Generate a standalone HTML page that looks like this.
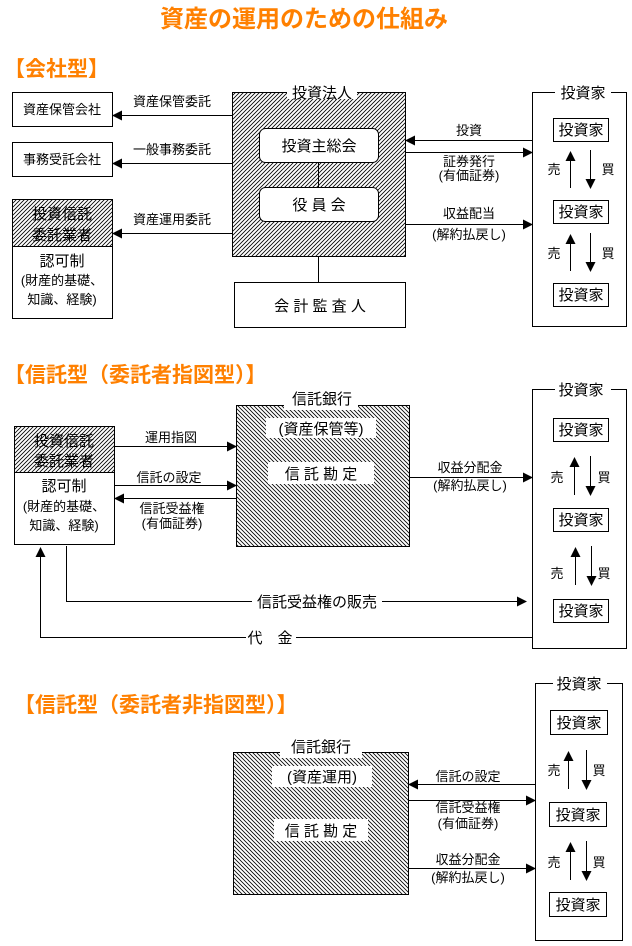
<!DOCTYPE html>
<html><head><meta charset="utf-8"><style>
html,body{margin:0;padding:0;background:#fff;}
svg{display:block;}
text{font-family:"Liberation Sans","Noto Sans CJK JP",sans-serif;font-size:13px;fill:#000;}
.o{fill:#ff8000;font-weight:bold;font-size:21px;}
.t{font-size:24px;}
.b{font-size:15px;}
</style></head><body>
<svg width="632" height="946" viewBox="0 0 632 946" xmlns="http://www.w3.org/2000/svg">
<defs>
<pattern id="h1" width="4" height="4" patternUnits="userSpaceOnUse"><rect width="4" height="4" fill="#fff"/><path d="M-1,1 L1,-1 M0,4 L4,0 M3,5 L5,3" stroke="#000" stroke-width="0.8"/></pattern>
<pattern id="h2" width="4" height="4" patternUnits="userSpaceOnUse"><rect width="4" height="4" fill="#fff"/><path d="M-1,3 L1,5 M0,0 L4,4 M3,-1 L5,1" stroke="#000" stroke-width="0.8"/></pattern>
<marker id="a" markerWidth="10" markerHeight="10" refX="9" refY="5" orient="auto" markerUnits="userSpaceOnUse"><path d="M0,0 L10,5 L0,10 z" fill="#000"/></marker>
</defs>
<text x="304" y="27" text-anchor="middle" class="o t">資産の運用のための仕組み</text>
<text x="4" y="76" class="o">【会社型】</text>

<!-- Section 1 -->
<g fill="#fff" stroke="#000">
<rect x="12.5" y="92.5" width="100" height="34"/>
<rect x="12.5" y="142.5" width="100" height="34"/>
<rect x="12.5" y="199.5" width="100" height="119"/>
<rect x="12.5" y="199.5" width="100" height="47" fill="url(#h1)"/>
<rect x="232.5" y="92.5" width="173" height="164" fill="url(#h1)"/>
<rect x="259.5" y="128.5" width="119" height="34" rx="6"/>
<rect x="259.5" y="187.5" width="119" height="34" rx="6"/>
<rect x="234.5" y="282.5" width="171" height="45"/>
<rect x="532.5" y="92.5" width="94" height="234"/>
<rect x="553.5" y="118.5" width="55" height="23"/>
<rect x="553.5" y="200.5" width="55" height="23"/>
<rect x="553.5" y="283.5" width="55" height="23"/>
</g>
<rect x="287" y="85" width="70" height="14" fill="#fff"/>
<rect x="555" y="85" width="56" height="14" fill="#fff"/>
<g stroke="#000" fill="none">
<line x1="318.5" y1="162" x2="318.5" y2="187"/>
<line x1="318.5" y1="256" x2="318.5" y2="282"/>
<line x1="232" y1="115.5" x2="113" y2="115.5" marker-end="url(#a)"/>
<line x1="232" y1="163.5" x2="113" y2="163.5" marker-end="url(#a)"/>
<line x1="232" y1="233.5" x2="113" y2="233.5" marker-end="url(#a)"/>
<line x1="532" y1="140.5" x2="406" y2="140.5" marker-end="url(#a)"/>
<line x1="406" y1="152.5" x2="532" y2="152.5" marker-end="url(#a)"/>
<line x1="406" y1="224.5" x2="532" y2="224.5" marker-end="url(#a)"/>
<line x1="570.5" y1="188" x2="570.5" y2="152" marker-end="url(#a)"/>
<line x1="590.5" y1="150" x2="590.5" y2="188" marker-end="url(#a)"/>
<line x1="570.5" y1="271" x2="570.5" y2="235" marker-end="url(#a)"/>
<line x1="590.5" y1="233" x2="590.5" y2="271" marker-end="url(#a)"/>
</g>
<text x="62" y="114" text-anchor="middle">資産保管会社</text>
<text x="62" y="164" text-anchor="middle">事務受託会社</text>
<text x="62" y="219" text-anchor="middle" class="b">投資信託</text>
<text x="62" y="240" text-anchor="middle" class="b">委託業者</text>
<text x="62" y="266" text-anchor="middle" class="b">認可制</text>
<text x="62" y="285" text-anchor="middle">(財産的基礎、</text>
<text x="62" y="304" text-anchor="middle">知識、経験)</text>
<text x="172" y="106" text-anchor="middle">資産保管委託</text>
<text x="172" y="154" text-anchor="middle">一般事務委託</text>
<text x="172" y="224" text-anchor="middle">資産運用委託</text>
<text x="322" y="98" text-anchor="middle" class="b">投資法人</text>
<text x="319" y="151" text-anchor="middle" class="b">投資主総会</text>
<text x="319" y="210" text-anchor="middle" class="b">役 員 会</text>
<text x="320" y="311" text-anchor="middle" class="b">会 計 監 査 人</text>
<text x="469" y="135" text-anchor="middle">投資</text>
<text x="469" y="166" text-anchor="middle">証券発行</text>
<text x="469" y="180" text-anchor="middle">(有価証券)</text>
<text x="469" y="218" text-anchor="middle">収益配当</text>
<text x="469" y="239" text-anchor="middle">(解約払戻し)</text>
<text x="583" y="98" text-anchor="middle" class="b">投資家</text>
<text x="581" y="135" text-anchor="middle" class="b">投資家</text>
<text x="581" y="217" text-anchor="middle" class="b">投資家</text>
<text x="581" y="300" text-anchor="middle" class="b">投資家</text>
<text x="554" y="174" text-anchor="middle">売</text><text x="608" y="174" text-anchor="middle">買</text>
<text x="554" y="258" text-anchor="middle">売</text><text x="608" y="258" text-anchor="middle">買</text>

<!-- Section 2 -->
<text x="4" y="382" class="o">【信託型（委託者指図型）】</text>
<g fill="#fff" stroke="#000">
<rect x="14.5" y="426.5" width="100" height="118"/>
<rect x="14.5" y="426.5" width="100" height="46" fill="url(#h1)"/>
<rect x="236.5" y="405.5" width="173" height="141" fill="url(#h2)"/>
<rect x="532.5" y="389.5" width="94" height="259"/>
<rect x="553.5" y="418.5" width="55" height="23"/>
<rect x="553.5" y="508.5" width="55" height="23"/>
<rect x="553.5" y="599.5" width="55" height="23"/>
</g>
<rect x="284" y="398" width="74" height="12" fill="#fff"/>
<rect x="266" y="418" width="110" height="20" fill="#fff"/>
<rect x="268" y="462" width="106" height="22" fill="#fff"/>
<rect x="555" y="382" width="56" height="14" fill="#fff"/>
<g stroke="#000" fill="none">
<line x1="114" y1="446.5" x2="236" y2="446.5" marker-end="url(#a)"/>
<line x1="114" y1="485.5" x2="236" y2="485.5" marker-end="url(#a)"/>
<line x1="236" y1="498.5" x2="115" y2="498.5" marker-end="url(#a)"/>
<line x1="410" y1="477.5" x2="532" y2="477.5" marker-end="url(#a)"/>
<polyline points="66.5,546 66.5,601.5 526,601.5" marker-end="url(#a)"/>
<polyline points="532,637.5 40.5,637.5 40.5,548" marker-end="url(#a)"/>
<line x1="574.5" y1="495" x2="574.5" y2="458" marker-end="url(#a)"/>
<line x1="590.5" y1="456" x2="590.5" y2="495" marker-end="url(#a)"/>
<line x1="575.5" y1="585" x2="575.5" y2="548" marker-end="url(#a)"/>
<line x1="591.5" y1="546" x2="591.5" y2="585" marker-end="url(#a)"/>
</g>
<rect x="252" y="594" width="130" height="15" fill="#fff"/>
<rect x="246" y="630" width="50" height="15" fill="#fff"/>
<text x="64" y="446" text-anchor="middle" class="b">投資信託</text>
<text x="64" y="466" text-anchor="middle" class="b">委託業者</text>
<text x="64" y="491" text-anchor="middle" class="b">認可制</text>
<text x="64" y="511" text-anchor="middle">(財産的基礎、</text>
<text x="64" y="530" text-anchor="middle">知識、経験)</text>
<text x="171" y="442" text-anchor="middle">運用指図</text>
<text x="169" y="482" text-anchor="middle">信託の設定</text>
<text x="172" y="513" text-anchor="middle">信託受益権</text>
<text x="172" y="528" text-anchor="middle">(有価証券)</text>
<text x="322" y="404" text-anchor="middle" class="b">信託銀行</text>
<text x="321" y="434" text-anchor="middle" class="b">(資産保管等)</text>
<text x="321" y="479" text-anchor="middle" class="b">信 託 勘 定</text>
<text x="470" y="472" text-anchor="middle">収益分配金</text>
<text x="470" y="490" text-anchor="middle">(解約払戻し)</text>
<text x="317" y="607" text-anchor="middle" class="b">信託受益権の販売</text>
<text x="270" y="643" text-anchor="middle" class="b">代　金</text>
<text x="581" y="395" text-anchor="middle" class="b">投資家</text>
<text x="581" y="435" text-anchor="middle" class="b">投資家</text>
<text x="581" y="525" text-anchor="middle" class="b">投資家</text>
<text x="581" y="616" text-anchor="middle" class="b">投資家</text>
<text x="557" y="482" text-anchor="middle">売</text><text x="604" y="482" text-anchor="middle">買</text>
<text x="557" y="578" text-anchor="middle">売</text><text x="604" y="578" text-anchor="middle">買</text>

<!-- Section 3 -->
<text x="14" y="712" class="o">【信託型（委託者非指図型）】</text>
<g fill="#fff" stroke="#000">
<rect x="233.5" y="752.5" width="175" height="142" fill="url(#h2)"/>
<rect x="535.5" y="683.5" width="87" height="257"/>
<rect x="550.5" y="710.5" width="57" height="24"/>
<rect x="549.5" y="802.5" width="57" height="24"/>
<rect x="549.5" y="892.5" width="57" height="24"/>
</g>
<rect x="280" y="746" width="82" height="12" fill="#fff"/>
<rect x="272" y="766" width="100" height="21" fill="#fff"/>
<rect x="274" y="819" width="94" height="22" fill="#fff"/>
<rect x="553" y="676" width="54" height="14" fill="#fff"/>
<g stroke="#000" fill="none">
<line x1="535" y1="784.5" x2="409" y2="784.5" marker-end="url(#a)"/>
<line x1="409" y1="800.5" x2="535" y2="800.5" marker-end="url(#a)"/>
<line x1="409" y1="868.5" x2="535" y2="868.5" marker-end="url(#a)"/>
<line x1="568.5" y1="789" x2="568.5" y2="752" marker-end="url(#a)"/>
<line x1="586.5" y1="750" x2="586.5" y2="789" marker-end="url(#a)"/>
<line x1="570.5" y1="880" x2="570.5" y2="843" marker-end="url(#a)"/>
<line x1="586.5" y1="841" x2="586.5" y2="880" marker-end="url(#a)"/>
</g>
<text x="321" y="752" text-anchor="middle" class="b">信託銀行</text>
<text x="322" y="782" text-anchor="middle" class="b">(資産運用)</text>
<text x="321" y="836" text-anchor="middle" class="b">信 託 勘 定</text>
<text x="468" y="781" text-anchor="middle">信託の設定</text>
<text x="468" y="812" text-anchor="middle">信託受益権</text>
<text x="468" y="828" text-anchor="middle">(有価証券)</text>
<text x="468" y="864" text-anchor="middle">収益分配金</text>
<text x="468" y="882" text-anchor="middle">(解約払戻し)</text>
<text x="579" y="689" text-anchor="middle" class="b">投資家</text>
<text x="579" y="728" text-anchor="middle" class="b">投資家</text>
<text x="578" y="820" text-anchor="middle" class="b">投資家</text>
<text x="578" y="910" text-anchor="middle" class="b">投資家</text>
<text x="554" y="775" text-anchor="middle">売</text><text x="599" y="775" text-anchor="middle">買</text>
<text x="554" y="867" text-anchor="middle">売</text><text x="599" y="867" text-anchor="middle">買</text>
</svg>
</body></html>
